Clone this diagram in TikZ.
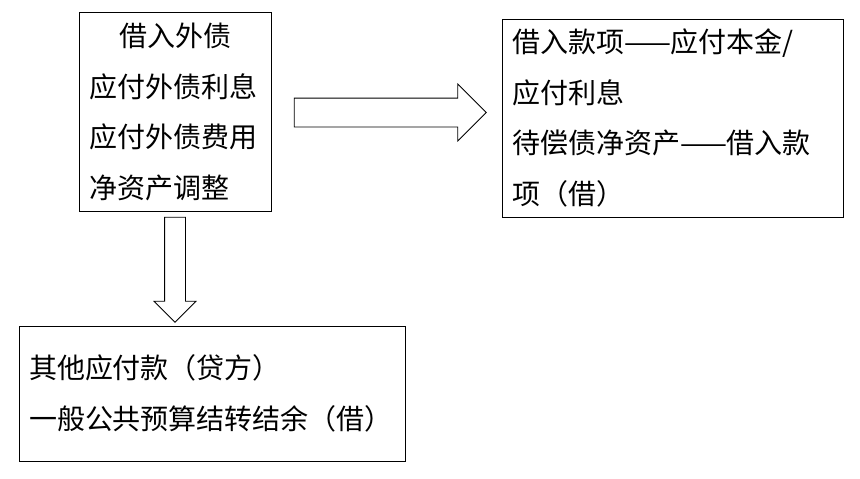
\documentclass[tikz,border=0pt]{standalone}
\usepackage{fontspec}
\newfontfamily\cjk{Noto Sans CJK SC}
\usepackage{tikz}
\usetikzlibrary{shapes, shapes.arrows, positioning}

\begin{document}
\begin{tikzpicture}[x=1pt, y=-1pt,
        box/.style={draw, line width=1pt, rectangle, align=left, inner xsep=10pt, inner ysep=0pt,
            font=\cjk\fontsize{28}{50.5}\selectfont},
        fatarrow/.style={draw, line width=0.8pt, single arrow, single arrow tip angle=90}]
        \useasboundingbox (0, 0) rectangle (860, 479);

        \node[box, text width=172pt, minimum height=198.5pt] (debt) at (175, 112)
            {\makebox[172pt]{借入外债}\\应付外债利息\\应付外债费用\\净资产调整};
        \node[box, text width=321pt, minimum height=198pt] (loan) at (672.5, 118)
            {借入款项——应付本金/\\应付利息\\待偿债净资产——借入款\\项（借）};
        \node[box, text width=366pt, minimum height=135pt] (other) at (212, 393.5)
            {其他应付款（贷方）\\一般公共预算结转结余（借）};

        \node[fatarrow, inner sep=14pt, minimum height=192pt,
            single arrow head extend=14pt] (toloan) at (383, 112.5) {};
        \node[fatarrow, inner sep=10pt, minimum height=105pt,
            single arrow head extend=10.5pt, shape border rotate=270] (toother) at (175, 264.5) {};
    \end{tikzpicture}
\end{document}
